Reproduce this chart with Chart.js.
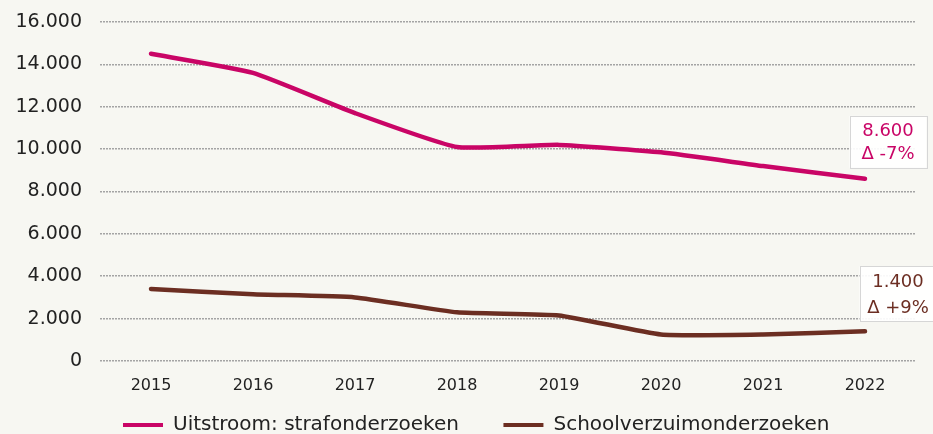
<!DOCTYPE html>
<html lang="nl">
<head>
<meta charset="utf-8">
<title>Uitstroom en schoolverzuim</title>
<script src="https://cdn.jsdelivr.net/npm/chart.js@4/dist/chart.umd.min.js"></script>
<style>
  html, body { margin: 0; padding: 0; background: #f7f7f2; }
  #wrap { width: 933px; height: 434px; position: relative; }
</style>
</head>
<body>
<div id="wrap"><canvas id="trend"></canvas></div>
<script>
// jaren en reeksen
const jaren = ['2015', '2016', '2017', '2018', '2019', '2020', '2021', '2022'];
const strafonderzoeken = [14500, 13600, 11700, 10100, 10200, 9850, 9200, 8600];
const schoolverzuim = [3400, 3150, 3000, 2300, 2150, 1250, 1250, 1400];

// labels bij het laatste punt
const eindLabels = [
  ['8.600', 'Δ -7%'],
  ['1.400', 'Δ +9%']
];

const ROZE = '#c90566';
const BRUIN = '#6c2e22';
const FONT = '"DejaVu Sans", Verdana, sans-serif';

const fmt = (n) => Number(n).toLocaleString('nl-NL');

// kaderlabel rechtsboven het laatste punt van elke lijn
const eindLabelPlugin = {
  id: 'eindLabel',
  afterDatasetsDraw(chart) {
    const ctx = chart.ctx;
    const pos = [
      { dx: 23, top: -63, h: 52 },
      { dx: 33, top: -65, h: 55 }
    ];
    chart.data.datasets.forEach((ds, i) => {
      const meta = chart.getDatasetMeta(i);
      const pt = meta.data[meta.data.length - 1];
      if (!pt) return;
      const p = pos[i];
      const cx = pt.x + p.dx;
      const top = pt.y + p.top;
      const w = 77;
      ctx.save();
      ctx.fillStyle = 'rgba(255,255,255,0.92)';
      ctx.strokeStyle = '#d6d6d6';
      ctx.lineWidth = 1;
      ctx.fillRect(cx - w / 2, top, w, p.h);
      ctx.strokeRect(Math.round(cx - w / 2) + 0.5, Math.round(top) + 0.5, w, p.h);
      ctx.fillStyle = ds.borderColor;
      ctx.font = '18px ' + FONT;
      ctx.textAlign = 'center';
      ctx.textBaseline = 'middle';
      ctx.fillText(eindLabels[i][0], cx, top + 16);
      ctx.fillText(eindLabels[i][1], cx, top + p.h - 13);
      ctx.restore();
    });
  }
};

new Chart(document.getElementById('trend'), {
  type: 'line',
  data: {
    labels: jaren,
    datasets: [
      {
        label: 'Uitstroom: strafonderzoeken',
        data: strafonderzoeken,
        borderColor: ROZE,
        backgroundColor: ROZE,
        borderWidth: 4.5,
        pointRadius: 0,
        tension: 0.15,
        borderCapStyle: 'round'
      },
      {
        label: 'Schoolverzuimonderzoeken',
        data: schoolverzuim,
        borderColor: BRUIN,
        backgroundColor: BRUIN,
        borderWidth: 4.5,
        pointRadius: 0,
        tension: 0.15,
        borderCapStyle: 'round'
      }
    ]
  },
  options: {
    responsive: true,
    maintainAspectRatio: false,
    animation: false,
    layout: { padding: { top: 22, right: 17, left: 15, bottom: -11 } },
    scales: {
      x: {
        offset: true,
        grid: { display: false },
        border: { display: false },
        ticks: {
          color: '#222',
          font: { family: FONT, size: 16 },
          padding: 7
        },
        // ruimte tussen jaartallen en legenda
        afterFit(scale) { scale.height = 54; }
      },
      y: {
        min: 0,
        max: 16000,
        border: { display: false, dash: [2, 1] },
        grid: {
          color: '#a4a4a4',
          lineWidth: 1.6,
          drawTicks: false
        },
        ticks: {
          stepSize: 2000,
          color: '#222',
          padding: 18,
          font: { family: FONT, size: 19 },
          callback: (v) => fmt(v)
        },
        afterFit(scale) {
          scale.width = 85;
          scale.paddingTop = 0;
          scale.paddingBottom = 0;
        }
      }
    },
    plugins: {
      legend: {
        position: 'bottom',
        fullSize: false,
        labels: {
          boxWidth: 40,
          boxHeight: 4,
          padding: 0,
          color: '#222',
          font: { family: FONT, size: 20 },
          generateLabels(chart) {
            const items = Chart.defaults.plugins.legend.labels.generateLabels(chart);
            // extra ruimte tussen en na de legenda-items
            items[0].text += '\u00a0'.repeat(7);
            items[1].text += '\u00a0'.repeat(10);
            items.forEach(it => { it.lineWidth = 0; });
            return items;
          }
        }
      },
      tooltip: { enabled: false }
    }
  },
  plugins: [eindLabelPlugin]
});
</script>
</body>
</html>
